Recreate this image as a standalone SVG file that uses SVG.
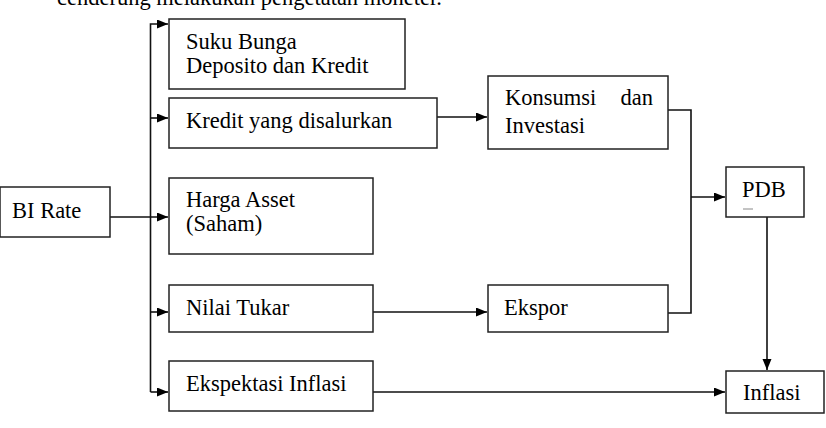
<svg xmlns="http://www.w3.org/2000/svg" width="826" height="428" viewBox="0 0 826 428">
<style>
text{font-family:"Liberation Serif","Times New Roman",serif;font-size:22.5px;fill:#000}
.box{fill:#fff;stroke:#222;stroke-width:1.5}
.ln{fill:none;stroke:#111;stroke-width:1.6}
</style>
<defs>
<marker id="ah" markerUnits="userSpaceOnUse" markerWidth="12" markerHeight="10" refX="11" refY="4.5" orient="auto">
<path d="M0,0 L11,4.5 L0,9 z" fill="#000"/>
</marker>
</defs>
<rect width="826" height="428" fill="#fff"/>
<text x="57" y="5">cenderung melakukan pengetatan moneter.</text>
<g id="connectors">
<path class="ln" d="M150.5,392 V24 H168" marker-end="url(#ah)"/>
<path class="ln" d="M150.5,118 H168" marker-end="url(#ah)"/>
<path class="ln" d="M110,217 H168" marker-end="url(#ah)"/>
<path class="ln" d="M150.5,312 H168" marker-end="url(#ah)"/>
<path class="ln" d="M150.5,392 H168" marker-end="url(#ah)"/>
<path class="ln" d="M437,117 H487" marker-end="url(#ah)"/>
<path class="ln" d="M373,312 H487" marker-end="url(#ah)"/>
<path class="ln" d="M373,392 H725" marker-end="url(#ah)"/>
<path class="ln" d="M668,110 H691 V313 H668"/>
<path class="ln" d="M691,197 H725" marker-end="url(#ah)"/>
<path class="ln" d="M767,217 V370" marker-end="url(#ah)"/>
</g>
<g id="bi-rate"><rect class="box" x="0" y="187" width="110" height="50"/><text x="12" y="218">BI Rate</text></g>
<g id="suku-bunga"><rect class="box" x="169" y="19" width="236" height="70"/><text x="186" y="49">Suku Bunga</text><text x="186" y="73">Deposito dan Kredit</text></g>
<g id="kredit"><rect class="box" x="169" y="98" width="268" height="50"/><text x="186" y="128">Kredit yang disalurkan</text></g>
<g id="harga-asset"><rect class="box" x="169" y="178" width="204" height="76"/><text x="186" y="207">Harga Asset</text><text x="186" y="231">(Saham)</text></g>
<g id="nilai-tukar"><rect class="box" x="169" y="285" width="204" height="47"/><text x="186" y="315">Nilai Tukar</text></g>
<g id="ekspektasi"><rect class="box" x="169" y="361" width="204" height="50"/><text x="186" y="391">Ekspektasi Inflasi</text></g>
<g id="konsumsi"><rect class="box" x="488" y="76" width="180" height="73"/><text x="505" y="105">Konsumsi</text><text x="653" y="105" text-anchor="end">dan</text><text x="505" y="133">Investasi</text></g>
<g id="ekspor"><rect class="box" x="488" y="285" width="180" height="47"/><text x="504" y="315">Ekspor</text></g>
<g id="pdb"><rect class="box" x="726" y="167" width="78" height="50"/><text x="742" y="197">PDB</text><line x1="743" y1="209" x2="753" y2="209" stroke="#888" stroke-width="1"/></g>
<g id="inflasi"><rect class="box" x="726" y="371" width="98" height="42"/><text x="743" y="400">Inflasi</text></g>
</svg>
